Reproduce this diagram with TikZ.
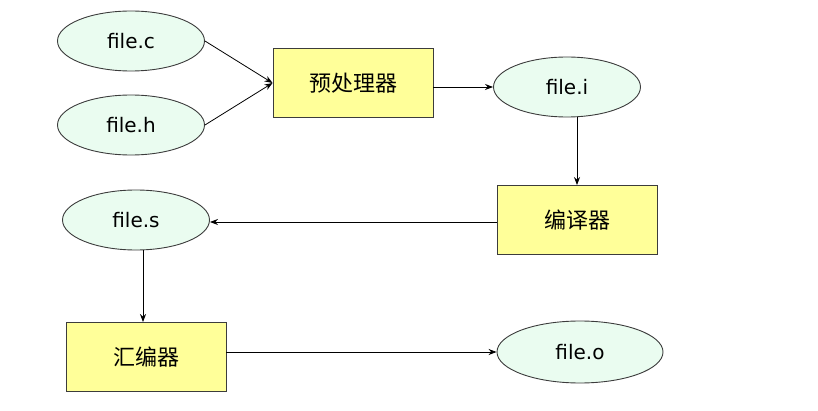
\documentclass[tikz,border=0pt]{standalone}
\usepackage{fontspec}
\setmainfont{DejaVu Sans}
\newfontfamily\cjk{Noto Sans CJK SC}
\usetikzlibrary{shapes.geometric, arrows.meta}
\usetikzlibrary{positioning,calc}
\definecolor{fileGreen}{RGB}{234,252,240}
\definecolor{toolYellow}{RGB}{255,255,153}
\definecolor{edgeGray}{RGB}{60,60,60}

\begin{document}
\begin{tikzpicture}[x=1pt,y=1pt]
	%defines
	\tikzstyle{fileNode} = [ellipse, minimum width=147pt, minimum height=60pt, inner sep=0pt, text centered, draw=edgeGray, line width=0.9pt, fill=fileGreen, font=\fontsize{20}{24}\selectfont]
	\tikzstyle{toolNode} = [rectangle, minimum width=160pt, minimum height=69pt, inner sep=0pt, text centered, draw=edgeGray, line width=0.9pt, fill=toolYellow, font=\cjk\fontsize{22}{26}\selectfont]
	\tikzstyle{arrow} = [line width=0.8pt,->,>={Stealth[length=8pt,width=6pt]}]
	\useasboundingbox (0,0) rectangle (818,-411);
	%chart
	\node (fileC) [fileNode] at (131,-41) {file.c};
	\node (fileH) [fileNode] at (131,-125) {file.h};
	\node (preproc) [toolNode] at (353,-83) {预处理器};
	\node (fileI) [fileNode] at (567,-87) {file.i};
	\node (compiler) [toolNode] at (577,-220) {编译器};
	\node (fileS) [fileNode] at (136,-220) {file.s};
	\node (assembler) [toolNode] at (146,-357) {汇编器};
	\node (fileO) [fileNode, minimum width=166pt, minimum height=62pt] at (580,-352) {file.o};
	\draw [arrow] (fileC.east) -- (preproc.west);
	\draw [arrow] (fileH.east) -- (preproc.west);
	\draw [arrow] (preproc.east |- fileI.west) -- (fileI.west);
	\draw [arrow] (fileI.south -| compiler.north) -- (compiler.north);
	\draw [arrow] (compiler.west |- 0,-222) -- (fileS.east |- 0,-222);
	\draw [arrow] (fileS.south -| 143,0) -- (assembler.north -| 143,0);
	\draw [arrow] (assembler.east |- fileO.west) -- (fileO.west);
\end{tikzpicture}
\end{document}
